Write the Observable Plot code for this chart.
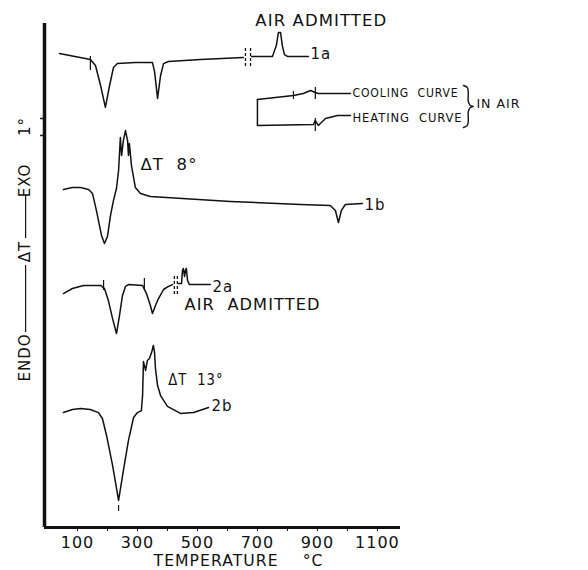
<!DOCTYPE html>
<html>
<head>
<meta charset="utf-8">
<script src="https://cdn.jsdelivr.net/npm/d3@7"></script>
<script src="https://cdn.jsdelivr.net/npm/@observablehq/plot@0.6"></script>
<style>
  html, body { margin: 0; padding: 0; background: #fff; }
</style>
</head>
<body>
<div id="chart"></div>
<script>
// Temperature (°C) and ΔT deflection (°, arbitrary baseline)
const t1a = [40,143,160,177,193,207,220,233,293,350,357,367,377,387,403,510,653];
const v1a = [27.88,27.53,27.18,26.0,24.71,26.0,27.06,27.29,27.35,27.35,26.82,25.24,26.59,27.29,27.41,27.53,27.65];
const t1aAir = [680,750,763,770,777,783,790,800,870];
const v1aAir = [27.71,27.71,28.35,29.12,29.12,28.35,27.82,27.71,27.71];

const t1b = [53,83,110,137,150,163,180,190,200,210,220,230,237,243,247,253,260,267,270,273,280,293,310,343,610,843,943,960,970,980,993,1050];
const v1b = [19.88,20.0,20.0,19.88,19.65,18.65,17.18,16.71,17.12,18.35,19.24,19.94,21.0,22.94,21.88,22.76,23.35,22.76,21.88,22.59,21.29,20.0,19.65,19.47,19.18,19.0,18.94,18.65,17.94,18.65,19.0,19.06];

const t2a = [53,83,120,177,190,203,217,230,240,250,260,270,317,330,343,350,360,370,387,403,417];
const v2a = [13.76,14.06,14.24,14.24,14.06,13.35,12.29,11.41,12.47,13.65,14.18,14.29,14.24,13.76,13.06,12.59,13.06,13.47,14.0,14.18,14.29];
const t2aAir = [437,447,450,453,457,460,463,467,473,543];
const v2aAir = [14.35,14.35,15.12,15.24,14.76,15.12,15.24,14.53,14.29,14.29];

const t2b = [53,83,110,143,170,183,197,217,237,253,270,287,300,313,317,320,327,333,340,347,353,357,360,367,377,400,443,487,537];
const v2b = [6.76,6.94,7.0,6.94,6.76,6.41,5.41,3.65,1.59,3.35,5.12,6.47,6.76,6.88,7.76,9.76,9.24,9.82,9.94,10.29,10.71,10.29,9.35,8.35,7.76,7.12,6.71,6.76,7.06];

// inset key: cooling and heating curves in air, and its brace
const tCool = [700,760,820,853,877,893,903,1010];
const vCool = [25.18,25.29,25.41,25.53,25.71,25.59,25.53,25.53];
const tHeat = [700,700,887,893,903,927,967,1010];
const vHeat = [25.18,23.65,23.71,23.94,23.65,24.06,24.24,24.24];
const tBrace = [1387,1400,1403,1403,1410,1420,1410,1403,1403,1400,1387];
const vBrace = [26.0,25.88,25.59,25.06,24.82,24.76,24.71,24.47,23.94,23.65,23.53];

// short vertical marks (temperature, from ΔT, to ΔT)
const markT  = [143, 187, 323, 820, 893, 893, 237];
const markV1 = [27.71, 14.53, 14.65, 25.65, 25.88, 24.06, 1.3];
const markV2 = [26.88, 13.94, 13.94, 25.18, 25.18, 23.29, 0.95];

// break marks (air admitted)
const breakT  = [660, 677, 423, 433];
const breakV1 = [28.18, 28.18, 14.76, 14.76];
const breakV2 = [27.06, 27.06, 13.71, 13.71];

// x axis ticks
const xTicks = [100,200,300,400,500,600,700,800,900,1000,1100];
const xTickLabels = ["100","","300","","500","","700","","900","","1100"];

// annotation labels
const labelText = ["1a","1b","2a","2b","ΔT\u00a0\u00a08°","ΔT\u00a0\u00a013°","AIR\u00a0ADMITTED","AIR\u00a0\u00a0ADMITTED","COOLING\u00a0\u00a0CURVE","HEATING\u00a0\u00a0CURVE","IN\u00a0AIR","TEMPERATURE\u00a0\u00a0\u00a0\u00a0°C"];
const labelT = [877,1057,550,547,310,403,913,457,1017,1017,1430,637];
const labelV = [27.82,18.94,14.12,7.12,21.29,8.65,29.76,13.06,25.59,24.12,24.94,-2.0];
const labelAnchor = ["start","start","start","start","start","start","middle","start","start","start","start","middle"];

const yLabText = ["1°","EXO","ΔT","ENDO"];
const yLabV = [23.59, 20.41, 16.24, 10.0];
const yDashV1 = [19.53, 15.41];
const yDashV2 = [17.0, 11.47];

const scaleBarV = [24.06, 23.06];

const series = [
  ["1a", t1a, v1a], ["1a-air", t1aAir, v1aAir],
  ["1b", t1b, v1b],
  ["2a", t2a, v2a], ["2a-air", t2aAir, v2aAir],
  ["2b", t2b, v2b],
  ["cool", tCool, vCool], ["heat", tHeat, vHeat]
];
const rows = series.flatMap(([name, ts, vs]) => ts.map((t, i) => ({curve: name, t, v: vs[i]})));
const brace = tBrace.map((t, i) => ({t, v: vBrace[i]}));
const marks = markT.map((t, i) => ({t, v1: markV1[i], v2: markV2[i]}));
const breaks = breakT.map((t, i) => ({t, v1: breakV1[i], v2: breakV2[i]}));
const labels = labelText.map((text, i) => ({text, t: labelT[i], v: labelV[i], anchor: labelAnchor[i]}));
const yLabels = yLabText.map((text, i) => ({text, v: yLabV[i]}));
const yDashes = yDashV1.map((v1, i) => ({v1, v2: yDashV2[i]}));

// rendered text widths and sizes (style)
const textWidths = new Map([
  ["AIR\u00a0ADMITTED", 132],
  ["AIR\u00a0\u00a0ADMITTED", 136],
  ["COOLING\u00a0\u00a0CURVE", 106],
  ["HEATING\u00a0\u00a0CURVE", 110],
  ["IN\u00a0AIR", 44],
  ["ΔT\u00a0\u00a08°", 57],
  ["ΔT\u00a0\u00a013°", 55],
  ["TEMPERATURE\u00a0\u00a0\u00a0\u00a0°C", 170]
]);
const smallText = new Set(["COOLING\u00a0\u00a0CURVE", "HEATING\u00a0\u00a0CURVE", "IN\u00a0AIR"]);

const ink = "#111";
const xMin = -10, xMax = 1177, yMax = 29.53;

const chart = Plot.plot({
  width: 588,
  height: 570,
  marginLeft: 44,
  marginRight: 188,
  marginTop: 25,
  marginBottom: 43,
  x: {domain: [xMin, xMax]},
  y: {domain: [0, yMax], axis: null},
  style: {fontFamily: "DejaVu Sans, sans-serif", fontSize: "14px", color: ink, background: "#fff"},
  marks: [
    Plot.line(rows, {x: "t", y: "v", z: "curve", stroke: ink, strokeWidth: 1.5}),
    Plot.line(brace, {x: "t", y: "v", stroke: ink, strokeWidth: 1.4, curve: "catmull-rom"}),
    Plot.ruleX(marks, {x: "t", y1: "v1", y2: "v2", stroke: ink, strokeWidth: 1.2}),
    Plot.ruleX(breaks, {x: "t", y1: "v1", y2: "v2", stroke: ink, strokeWidth: 1.3, strokeDasharray: "3,2"}),
    // axes frame
    Plot.ruleX([xMin], {y1: 0, y2: yMax + 0.12, stroke: ink, strokeWidth: 3.5}),
    Plot.ruleY([0], {x1: xMin, x2: xMax, stroke: ink, strokeWidth: 3}),
    Plot.ruleY(scaleBarV, {x1: -23, x2: xMin, stroke: ink, strokeWidth: 1.5}),
    Plot.axisX({ticks: xTicks, tickFormat: d => xTickLabels[xTicks.indexOf(d)], tickSize: 4, tickPadding: 5, fontSize: 16, label: null, stroke: ink}),
    // labels
    Plot.text(labels.filter(d => d.anchor === "start" && !smallText.has(d.text)), {x: "t", y: "v", text: "text", textAnchor: "start", fill: ink, fontSize: 15}),
    Plot.text(labels.filter(d => smallText.has(d.text)), {x: "t", y: "v", text: "text", textAnchor: "start", fill: ink, fontSize: 13}),
    Plot.text(labels.filter(d => d.anchor === "middle"), {x: "t", y: "v", text: "text", textAnchor: "middle", fill: ink, fontSize: 15}),
    Plot.text(yLabels, {x: -73, y: "v", text: "text", rotate: -90, fill: ink, fontSize: 15}),
    Plot.ruleX(yDashes, {x: -73, y1: "v1", y2: "v2", stroke: ink, strokeWidth: 1.2})
  ]
});
chart.style.letterSpacing = "1px";
d3.select(chart).selectAll("text").each(function() {
  const w = textWidths.get(this.textContent);
  if (w) d3.select(this).attr("textLength", w).attr("lengthAdjust", "spacingAndGlyphs");
});
document.getElementById("chart").appendChild(chart);
</script>
</body>
</html>
